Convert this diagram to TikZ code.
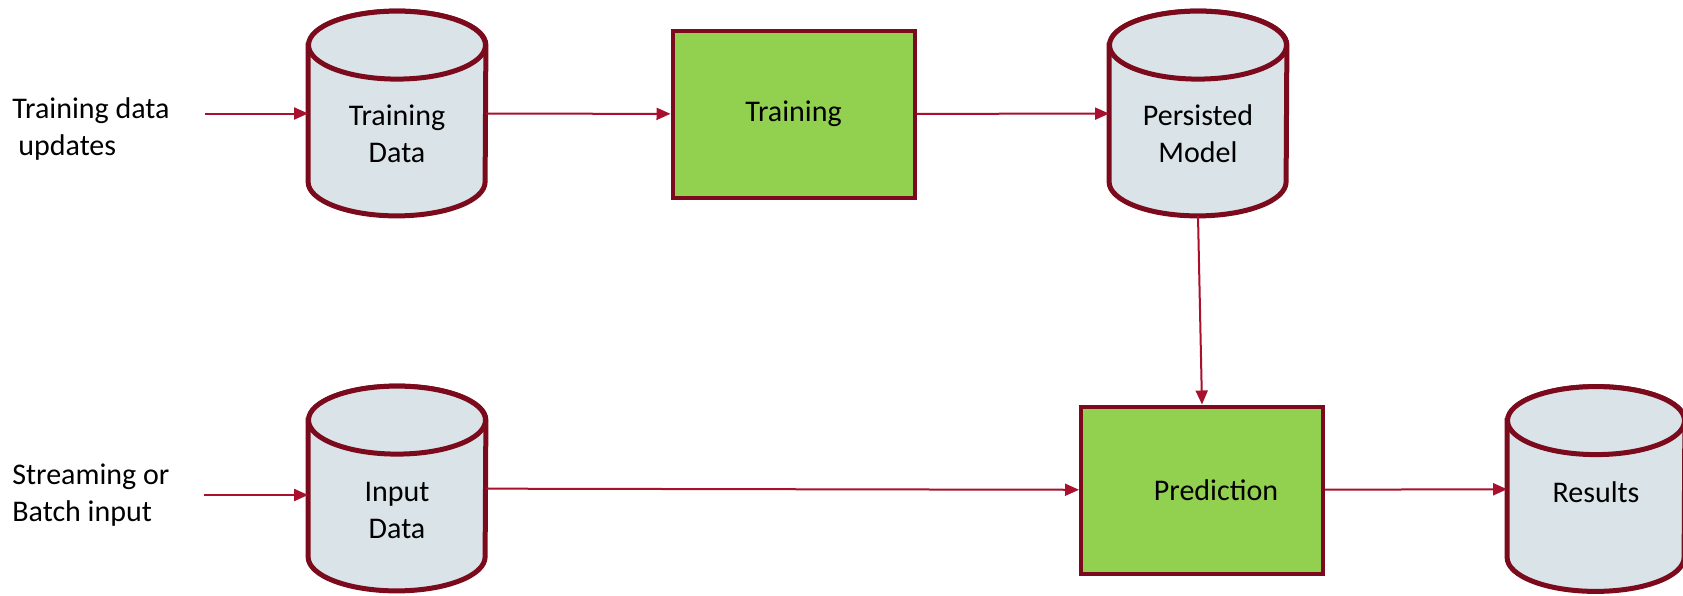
\documentclass[tikz,border=0pt]{standalone}
\usepackage{fontspec}
\setmainfont{Carlito}
\usepackage{tikz}
\usetikzlibrary{arrows.meta}

\definecolor{dbborder}{HTML}{7A0A1C}
\definecolor{dbarrow}{HTML}{A8102E}
\definecolor{dbfill}{HTML}{DAE3E8}
\definecolor{taskgreen}{HTML}{92D050}

\begin{document}
\begin{tikzpicture}[x=0.5pt, y=-0.5pt,
    every node/.style={font=\fontsize{15pt}{18.5pt}\selectfont},
    storeline/.style={draw=dbborder, line width=2.5pt, fill=dbfill},
    store/.style={rectangle, inner sep=0pt,
        minimum width=88.5pt, minimum height=102pt,
        append after command={\pgfextra{
            \draw[storeline] ([yshift=-17pt]\tikzlastnode.north west)
                -- ([yshift=17pt]\tikzlastnode.south west)
                arc[start angle=180, end angle=360, x radius=44.25pt, y radius=17pt]
                -- ([yshift=-17pt]\tikzlastnode.north east)
                arc[start angle=0, end angle=180, x radius=44.25pt, y radius=17pt]
                -- cycle;
            \draw[storeline] ([yshift=-17pt]\tikzlastnode.north)
                ellipse[x radius=44.25pt, y radius=17pt];
        }}},
    storetext/.style={align=center, inner sep=0pt},
    task/.style={rectangle, draw=dbborder, line width=2pt, fill=taskgreen,
        minimum width=121pt, minimum height=83.5pt},
    note/.style={align=left, anchor=north west, inner sep=0pt},
    flow/.style={draw=dbarrow, line width=1pt, -{Triangle[length=7pt,width=6pt]}}]

    \useasboundingbox (0,0) rectangle (1683,595);

    % upper row
    \node[store, label={[storetext, yshift=-10pt]center:Training\\Data}] (traindata) at (397,113.5) {};

    \node[task] (training) at (793.5,114) {Training};

    \node[store, label={[storetext, yshift=-10pt]center:Persisted\\Model}] (model) at (1198,113.5) {};

    % lower row
    \node[store, label={[storetext, yshift=-11pt]center:Input\\Data}] (inputdata) at (397,488.5) {};

    \node[task] (prediction) at (1202,490) {\hspace{14pt}Prediction};

    \node[store, label={[storetext, yshift=-1.5pt]center:Results}] (results) at (1596,489) {};

    % inputs on the left
    \node[note] (trainnote) at (12,97) {Training data\\\hspace{3pt}updates};

    \node[note] (streamnote) at (12,463) {Streaming or\\Batch input};

    \coordinate (trainin) at (205,113.5);
    \coordinate (streamin) at (204,495);

    % connectors
    \draw[flow] (trainin) -- (traindata);
    \draw[flow] (traindata) -- (training);
    \draw[flow] (training) -- (model);
    \draw[flow] (model.south) -- (prediction.north);
    \draw[flow] (streamin) -- (streamin -| inputdata.west);
    \draw[flow] (inputdata) -- (prediction);
    \draw[flow] (prediction) -- (results);

\end{tikzpicture}
\end{document}
